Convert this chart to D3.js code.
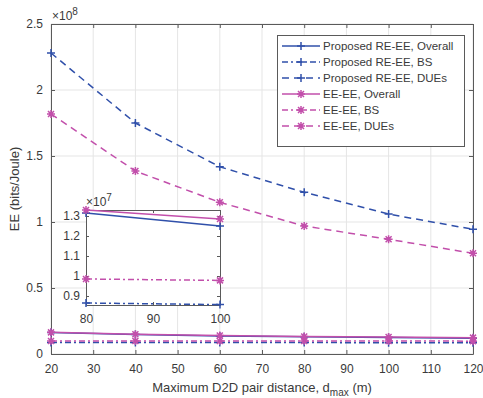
<!DOCTYPE html>
<html><head><meta charset="utf-8">
<script src="https://cdn.jsdelivr.net/npm/d3@7"></script>
<style>body{margin:0;background:#fff}svg{display:block;font-family:"Liberation Sans",Arial,sans-serif}</style>
</head><body><svg id="c" width="483" height="398"></svg>
<script>
const xVals = [20, 40, 60, 80, 100, 120];
const reOverall = [1.62e7, 1.47e7, 1.37e7, 1.315e7, 1.25e7, 1.20e7];
const reBS = [0.870e7, 0.867e7, 0.866e7, 0.865e7, 0.857e7, 0.855e7];
const reDUE = [2.28e8, 1.75e8, 1.418e8, 1.225e8, 1.06e8, 0.945e8];
const eeOverall = [1.64e7, 1.50e7, 1.40e7, 1.33e7, 1.285e7, 1.24e7];
const eeBS = [0.990e7, 0.988e7, 0.986e7, 0.985e7, 0.978e7, 0.975e7];
const eeDUE = [1.818e8, 1.386e8, 1.149e8, 0.970e8, 0.869e8, 0.763e8];
const xTicks = [20, 30, 40, 50, 60, 70, 80, 90, 100, 110, 120];
const yTicks = [0, 0.5e8, 1e8, 1.5e8, 2e8, 2.5e8];
const yTickLabels = ["0", "0.5", "1", "1.5", "2", "2.5"];
const insetXTicks = [80, 90, 100];
const insetYTicks = [0.9e7, 1.0e7, 1.1e7, 1.2e7, 1.3e7];
const insetYTickLabels = ["0.9", "1", "1.1", "1.2", "1.3"];

const BLUE = "#3050aa", PINK = "#c24fab";
const series = [
  {name: "Proposed RE-EE, Overall", vals: reOverall, color: BLUE, dash: null, marker: "plus"},
  {name: "Proposed RE-EE, BS", vals: reBS, color: BLUE, dash: "6,3,2,3", marker: "plus"},
  {name: "Proposed RE-EE, DUEs", vals: reDUE, color: BLUE, dash: "7,5", marker: "plus"},
  {name: "EE-EE, Overall", vals: eeOverall, color: PINK, dash: null, marker: "star"},
  {name: "EE-EE, BS", vals: eeBS, color: PINK, dash: "6,3,2,3", marker: "star"},
  {name: "EE-EE, DUEs", vals: eeDUE, color: PINK, dash: "7,5", marker: "star"}
];

const svg = d3.select("#c");
const AX = "#5a5a5a", TXT = "#3a3a3a", GRID = "#e5e5e5";
const L = 51, R = 473, T = 24, B = 354;
const x = d3.scaleLinear().domain([20, 120]).range([L, R]);
const y = d3.scaleLinear().domain([0, 2.5e8]).range([B, T]);

function marker(g, type, cx, cy, color, s) {
  s = s || 4;
  const p = type === "plus"
    ? `M${cx-s},${cy}H${cx+s}M${cx},${cy-s}V${cy+s}`
    : `M${cx-s},${cy}H${cx+s}M${cx},${cy-s}V${cy+s}M${cx-s*0.75},${cy-s*0.75}L${cx+s*0.75},${cy+s*0.75}M${cx-s*0.75},${cy+s*0.75}L${cx+s*0.75},${cy-s*0.75}`;
  g.append("path").attr("d", p).attr("stroke", color).attr("stroke-width", 1.5).attr("fill", "none");
}

// grid
const grid = svg.append("g");
xTicks.forEach(t => grid.append("line").attr("x1", x(t)).attr("x2", x(t)).attr("y1", T).attr("y2", B).attr("stroke", GRID));
yTicks.forEach(t => grid.append("line").attr("x1", L).attr("x2", R).attr("y1", y(t)).attr("y2", y(t)).attr("stroke", GRID));

// axes
const xa = svg.append("g").attr("transform", `translate(0,${B})`)
  .call(d3.axisBottom(x).tickValues(xTicks).tickSizeInner(-4).tickSizeOuter(0).tickPadding(10));
const xaTop = svg.append("g").attr("transform", `translate(0,${T})`)
  .call(d3.axisTop(x).tickValues(xTicks).tickSizeInner(-4).tickSizeOuter(0).tickFormat(""));
const ya = svg.append("g").attr("transform", `translate(${L},0)`)
  .call(d3.axisLeft(y).tickValues(yTicks).tickSizeInner(-4).tickSizeOuter(0).tickPadding(8).tickFormat((d, i) => yTickLabels[i]));
const yaR = svg.append("g").attr("transform", `translate(${R},0)`)
  .call(d3.axisRight(y).tickValues(yTicks).tickSizeInner(-4).tickSizeOuter(0).tickFormat(""));
[xa, xaTop, ya, yaR].forEach(a => {
  a.selectAll("path.domain").attr("stroke", AX);
  a.selectAll("line").attr("stroke", AX);
  a.selectAll("text").attr("fill", TXT).style("font-size", "12px");
});

// lines
const line = d3.line().x(d => x(d[0])).y(d => y(d[1]));
series.forEach(s => {
  const pts = xVals.map((v, i) => [v, s.vals[i]]);
  svg.append("path").attr("d", line(pts)).attr("fill", "none").attr("stroke", s.color)
    .attr("stroke-width", 1.5).attr("stroke-dasharray", s.dash);
  const g = svg.append("g");
  pts.forEach(p => marker(g, s.marker, x(p[0]), y(p[1]), s.color));
});

// exponent
svg.append("text").attr("x", 52).attr("y", 20).attr("fill", TXT).style("font-size", "12px")
  .html('×10<tspan dy="-5" font-size="10px">8</tspan>');

// axis labels
svg.append("text").attr("x", (L + R) / 2).attr("y", 392).attr("text-anchor", "middle").attr("fill", TXT)
  .style("font-size", "13px")
  .html('Maximum D2D pair distance, d<tspan dy="4" font-size="10px">max</tspan><tspan dy="-4"> (m)</tspan>');
svg.append("text").attr("transform", `translate(19,${(T + B) / 2}) rotate(-90)`).attr("text-anchor", "middle")
  .attr("fill", TXT).style("font-size", "13px").text("EE (bits/Joule)");

// legend
const lg = svg.append("g");
lg.append("rect").attr("x", 277.5).attr("y", 35.5).attr("width", 187).attr("height", 111)
  .attr("fill", "#fff").attr("stroke", AX);
series.forEach((s, i) => {
  const yy = 46 + i * 16;
  lg.append("line").attr("x1", 282).attr("x2", 320).attr("y1", yy).attr("y2", yy)
    .attr("stroke", s.color).attr("stroke-width", 1.5).attr("stroke-dasharray", s.dash);
  marker(lg, s.marker, 301, yy, s.color);
  lg.append("text").attr("x", 323).attr("y", yy + 4).attr("fill", TXT).style("font-size", "11.5px").text(s.name);
});

// inset
const iL = 86, iR = 220, iT = 210, iB = 305;
const ix = d3.scaleLinear().domain([80, 100]).range([iL, iR]);
const iy = d3.scaleLinear().domain([0.855e7, 1.33e7]).range([iB, iT]);
svg.append("rect").attr("x", iL).attr("y", iT).attr("width", iR - iL).attr("height", iB - iT).attr("fill", "#fff");
const ixa = svg.append("g").attr("transform", `translate(0,${iB})`)
  .call(d3.axisBottom(ix).tickValues(insetXTicks).tickSizeInner(-3).tickSizeOuter(0).tickPadding(9));
const ixaT = svg.append("g").attr("transform", `translate(0,${iT})`)
  .call(d3.axisTop(ix).tickValues(insetXTicks).tickSizeInner(-3).tickSizeOuter(0).tickFormat(""));
const iya = svg.append("g").attr("transform", `translate(${iL},0)`)
  .call(d3.axisLeft(iy).tickValues(insetYTicks).tickSizeInner(-3).tickSizeOuter(0).tickPadding(6).tickFormat((d, i) => insetYTickLabels[i]));
const iyaR = svg.append("g").attr("transform", `translate(${iR},0)`)
  .call(d3.axisRight(iy).tickValues(insetYTicks).tickSizeInner(-3).tickSizeOuter(0).tickFormat(""));
[ixa, ixaT, iya, iyaR].forEach(a => {
  a.selectAll("path.domain").attr("stroke", AX);
  a.selectAll("line").attr("stroke", AX);
  a.selectAll("text").attr("fill", TXT).style("font-size", "12px");
});
const iline = d3.line().x(d => ix(d[0])).y(d => iy(d[1]));
series.forEach(s => {
  const pts = xVals.map((v, i) => [v, s.vals[i]]).filter(p => p[0] >= 80 && p[0] <= 100 && p[1] < 2e7);
  if (!pts.length) return;
  svg.append("path").attr("d", iline(pts)).attr("fill", "none").attr("stroke", s.color)
    .attr("stroke-width", 1.5).attr("stroke-dasharray", s.dash);
  const g = svg.append("g");
  pts.forEach(p => marker(g, s.marker, ix(p[0]), iy(p[1]), s.color));
});
svg.append("text").attr("x", 86).attr("y", 206).attr("fill", TXT).style("font-size", "12px")
  .html('×10<tspan dy="-5" font-size="10px">7</tspan>');
</script></body></html>
